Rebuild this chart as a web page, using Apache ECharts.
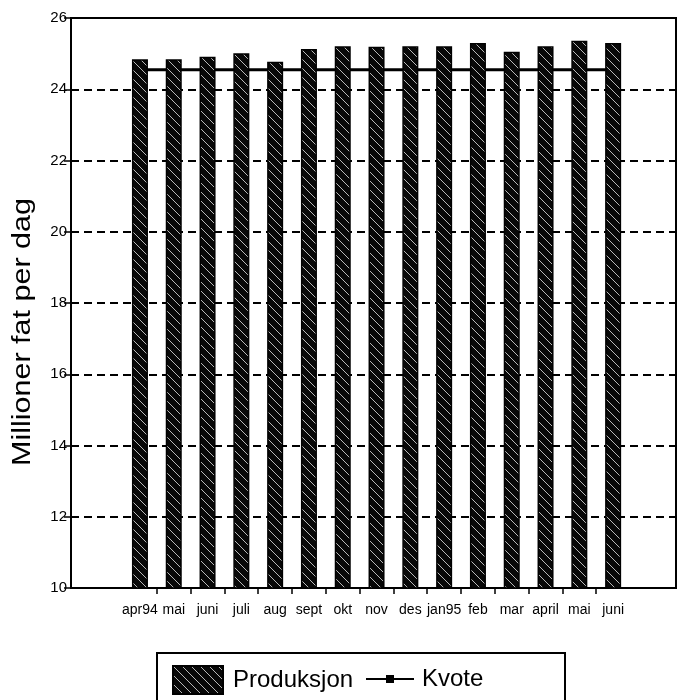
<!DOCTYPE html>
<html>
<head>
<meta charset="utf-8">
<script src="https://cdn.jsdelivr.net/npm/echarts@6/dist/echarts.min.js"></script>
<style>
html,body{margin:0;padding:0;background:#fff;}
#chart{width:677px;height:700px;}
</style>
</head>
<body>
<div id="chart"></div>
<script>
const categories = ['apr94','mai','juni','juli','aug','sept','okt','nov','des','jan95','feb','mar','april','mai','juni'];
const produksjon = [24.84,24.84,24.91,25.01,24.77,25.13,25.21,25.19,25.21,25.21,25.30,25.05,25.21,25.36,25.30];
const kvote = [24.55,24.55,24.55,24.55,24.55,24.55,24.55,24.55,24.55,24.55,24.55,24.55,24.55,24.55,24.55];
const yTicks = [10,12,14,16,18,20,22,24,26];

const FONT = 'Liberation Sans';

function makePattern(){
  const c = document.createElement('canvas');
  c.width = 9; c.height = 9;
  const g = c.getContext('2d');
  g.fillStyle = '#080808';
  g.fillRect(0,0,9,9);
  g.strokeStyle = 'rgba(215,215,215,0.85)';
  g.lineWidth = 1;
  g.beginPath();
  g.moveTo(-2,-2); g.lineTo(11,11);
  g.moveTo(-2,7); g.lineTo(2,11);
  g.moveTo(7,-2); g.lineTo(11,2);
  g.stroke();
  return c;
}
const pattern = {image: makePattern(), repeat: 'repeat'};

const chart = echarts.init(document.getElementById('chart'), null, {renderer:'canvas'});

const labelValues = categories.map((c,i)=>i);
const tickValues = categories.slice(1).map((c,i)=>i+0.5);

const option = {
  animation: false,
  backgroundColor: '#fff',
  grid: {
    left: 71, right: 1, top: 18, bottom: 112,
    show: true, borderColor: '#000', borderWidth: 2, backgroundColor: 'transparent'
  },
  xAxis: {
    type: 'value',
    min: -2.04, max: 15.86,
    axisLine: {show: true, onZero: false, lineStyle: {color:'#000', width: 2}},
    axisTick: {show: true, length: 6, customValues: tickValues, lineStyle: {color:'#000', width: 1.5}},
    axisLabel: {
      show: true, customValues: labelValues, margin: 15,
      color: '#000', fontFamily: FONT, fontSize: 14,
      formatter: v => categories[Math.round(v)]
    },
    splitLine: {show: false}
  },
  yAxis: [
    {
      type: 'value', min: 10, max: 26, interval: 2,
      axisLine: {show: true, onZero: false, lineStyle: {color:'#000', width: 2}},
      axisTick: {show: true, inside: true, length: 7, lineStyle: {color:'#000', width: 1.5}},
      axisLabel: {color:'#000', fontFamily: FONT, fontSize: 15, margin: 4},
      splitLine: {show: true, lineStyle: {color:'#000', width: 2, type: [8,5]}}
    },
    {
      type: 'value', min: 10, max: 26, interval: 2, position: 'left',
      axisLine: {show: false, onZero: false},
      axisTick: {show: true, inside: false, length: 7, lineStyle: {color:'#000', width: 1.5}},
      axisLabel: {show: false},
      splitLine: {show: false}
    }
  ],
  legend: [
    {
      data: [{name: 'Produksjon', icon: 'rect'}], left: 167, top: 660,
      itemWidth: 50, itemHeight: 28,
      textStyle: {color:'#000', fontFamily: FONT, fontSize: 24, padding: [0,0,0,5]}
    },
    {
      data: ['Kvote'], left: 360, top: 662,
      itemWidth: 48, itemHeight: 10,
      textStyle: {color:'#000', fontFamily: FONT, fontSize: 24, padding: [0,0,0,3]}
    }
  ],
  graphic: [
    {
      type: 'text', x: 23, y: 332, rotation: Math.PI/2, scaleX: 1.22,
      style: {text: 'Millioner fat per dag', font: '25px "Liberation Sans"', fill: '#000', align: 'center', verticalAlign: 'middle'}
    },
    {
      type: 'rect', shape: {x: 157, y: 653, width: 408, height: 80},
      style: {fill: 'none', stroke: '#000', lineWidth: 2}
    }
  ],
  series: [
    {
      name: 'Kvote', type: 'line', z: 2,
      data: kvote.map((v,i)=>[i,v]),
      symbol: 'rect', symbolSize: [8,6], showSymbol: false,
      lineStyle: {color:'#000', width: 3},
      itemStyle: {color:'#000'}
    },
    {
      name: 'Produksjon', type: 'bar', z: 3,
      data: produksjon.map((v,i)=>[i,v]),
      barWidth: 16,
      itemStyle: {color: pattern, borderColor: '#000', borderWidth: 1.5}
    }
  ]
};
chart.setOption(option);
</script>
</body>
</html>
